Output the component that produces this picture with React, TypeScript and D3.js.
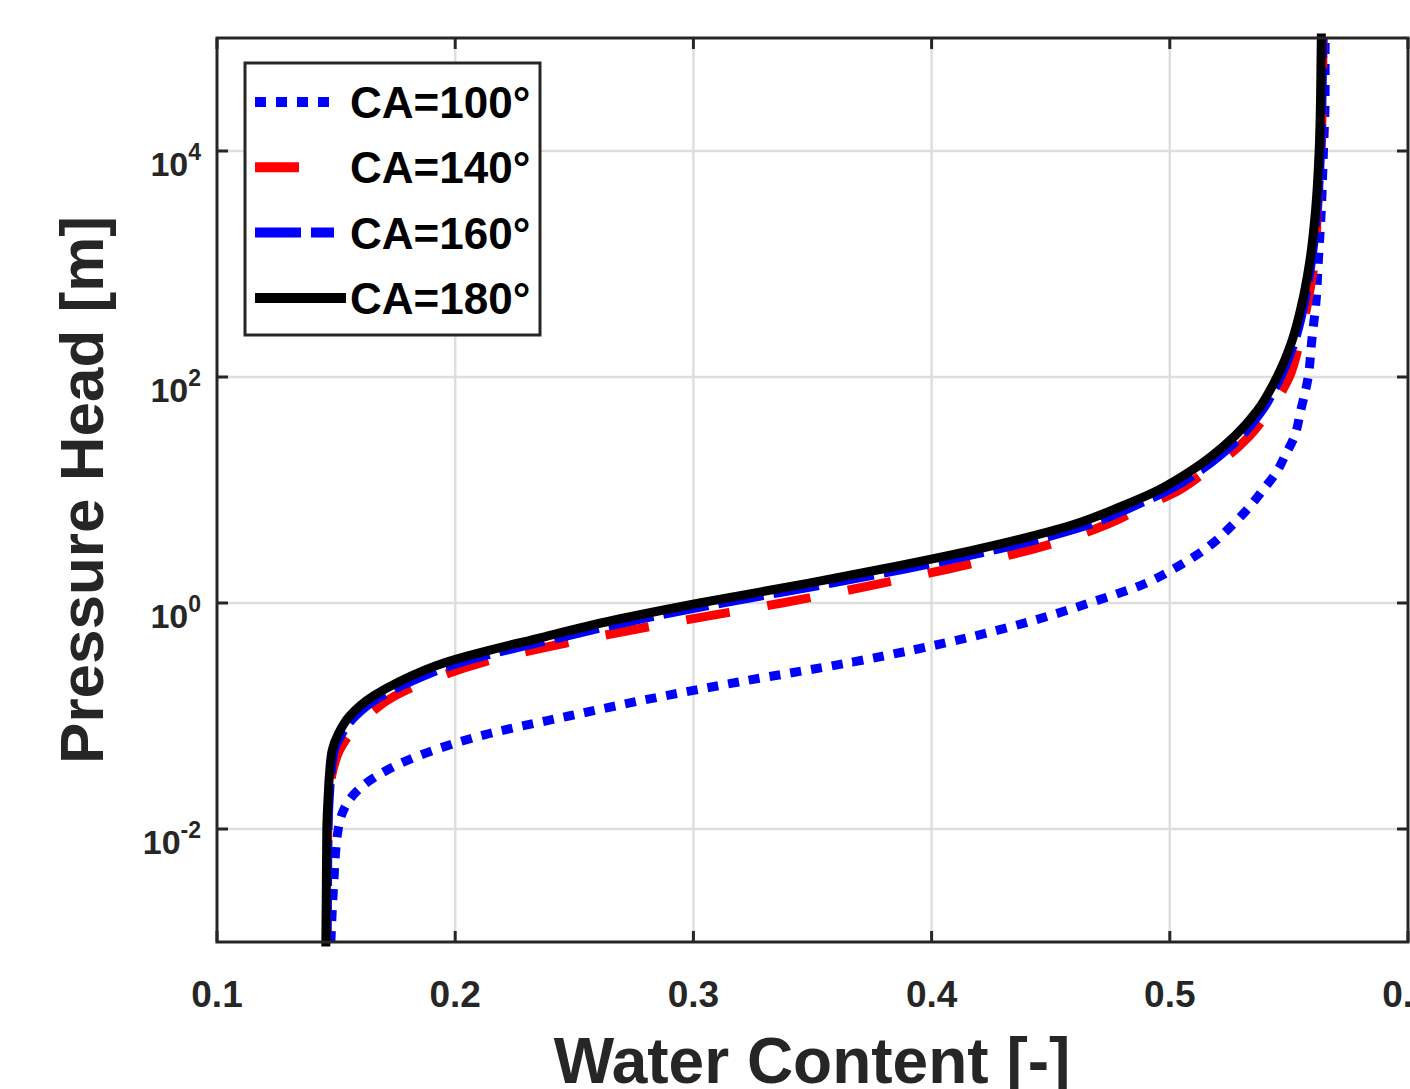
import React, { useRef, useEffect } from 'react';
import * as d3 from 'd3';

// pressure head values (m) shared by all curves
const pressureHead = [0.001, 0.003, 0.01, 0.02, 0.03, 0.05, 0.07, 0.1, 0.15, 0.2, 0.3, 0.5, 0.7, 1, 1.5, 2, 3, 5, 7, 10, 15, 20, 30, 50, 100, 200, 500, 1000, 3000, 10000, 30000, 100000];

// water content
const theta100 = [0.1478, 0.1489, 0.1509, 0.1572, 0.1677, 0.1912, 0.2144, 0.2477, 0.2875, 0.3190, 0.3667, 0.4164, 0.4428, 0.4662, 0.4901, 0.5015, 0.5149, 0.5267, 0.5332, 0.5391, 0.5453, 0.5483, 0.5524, 0.5549, 0.5581, 0.5595, 0.5615, 0.5623, 0.5636, 0.5645, 0.5652, 0.5652];
const theta140 = [0.1461, 0.1463, 0.1465, 0.1472, 0.1482, 0.1515, 0.1560, 0.1630, 0.1745, 0.1875, 0.2119, 0.2588, 0.2956, 0.3372, 0.3795, 0.4070, 0.4426, 0.4740, 0.4884, 0.5040, 0.5159, 0.5243, 0.5334, 0.5416, 0.5502, 0.5544, 0.5582, 0.5606, 0.5620, 0.5635, 0.5640, 0.5644];
const theta160 = [0.1462, 0.1464, 0.1466, 0.1472, 0.1478, 0.1493, 0.1525, 0.1581, 0.1690, 0.1810, 0.2026, 0.2450, 0.2750, 0.3121, 0.3580, 0.3886, 0.4278, 0.4668, 0.4835, 0.4995, 0.5130, 0.5208, 0.5300, 0.5386, 0.5465, 0.5522, 0.5569, 0.5593, 0.5618, 0.5633, 0.5639, 0.5642];
const theta180 = [0.1457, 0.1459, 0.1461, 0.1467, 0.1472, 0.1484, 0.1510, 0.1557, 0.1656, 0.1762, 0.1964, 0.2370, 0.2660, 0.3026, 0.3485, 0.3793, 0.4193, 0.4603, 0.4785, 0.4953, 0.5094, 0.5176, 0.5273, 0.5366, 0.5450, 0.5510, 0.5560, 0.5586, 0.5612, 0.5627, 0.5633, 0.5636];

const seriesLabels = ['CA=100°', 'CA=140°', 'CA=160°', 'CA=180°'];

const xTicks = [0.1, 0.2, 0.3, 0.4, 0.5, 0.6];
const xTickLabels = ['0.1', '0.2', '0.3', '0.4', '0.5', '0.6'];
const yTicks = [1e-2, 1, 1e2, 1e4];
const yTickExponents = ['-2', '0', '2', '4'];

const series = [
  { label: seriesLabels[0], values: theta100, color: '#0000ff', dash: '11,10', cap: 'butt' },
  { label: seriesLabels[1], values: theta140, color: '#ff0000', dash: '44,38', cap: 'butt' },
  { label: seriesLabels[2], values: theta160, color: '#0000ff', dash: '46,10', cap: 'butt' },
  { label: seriesLabels[3], values: theta180, color: '#000000', dash: null, cap: 'square' },
];

const W = 1410;
const H = 1089;

const App = () => {
  const svgRef = useRef(null);

  useEffect(() => {
    const svg = d3.select(svgRef.current);
    svg.selectAll('*').remove();

    const margin = { top: 38, right: 2, bottom: 147, left: 217 };
    const x = d3.scaleLinear().domain([0.1, 0.6]).range([margin.left, W - margin.right]);
    const y = d3.scaleLog().domain([1e-3, 1e5]).range([H - margin.bottom, margin.top]);
    const [x0, x1] = x.range();
    const [yb, yt] = y.range();

    const font = '"Liberation Sans", Arial, sans-serif';
    const axisColor = '#262626';

    svg.append('rect').attr('width', W).attr('height', H).attr('fill', '#fff');

    // grid
    const grid = svg.append('g').attr('stroke', '#dedede').attr('stroke-width', 2.5);
    grid.selectAll('.gx').data(xTicks.slice(1, -1)).enter().append('line')
      .attr('x1', d => x(d)).attr('x2', d => x(d)).attr('y1', yt).attr('y2', yb);
    grid.selectAll('.gy').data(yTicks).enter().append('line')
      .attr('x1', x0).attr('x2', x1).attr('y1', d => y(d)).attr('y2', d => y(d));

    // curves
    const line = d3.line()
      .x(d => x(d[0]))
      .y(d => y(d[1]))
      .curve(d3.curveMonotoneY);

    series.forEach(s => {
      const pts = s.values.map((v, i) => [v, pressureHead[i]]);
      svg.append('path')
        .attr('d', line(pts))
        .attr('fill', 'none')
        .attr('stroke', s.color)
        .attr('stroke-width', 9)
        .attr('stroke-linecap', s.cap)
        .attr('stroke-dasharray', s.dash);
    });

    // axis box
    svg.append('rect')
      .attr('x', x0).attr('y', yt).attr('width', x1 - x0).attr('height', yb - yt)
      .attr('fill', 'none').attr('stroke', axisColor).attr('stroke-width', 3);

    // ticks (inward, all four sides)
    const ticks = svg.append('g').attr('stroke', axisColor).attr('stroke-width', 3);
    xTicks.forEach(t => {
      ticks.append('line').attr('x1', x(t)).attr('x2', x(t)).attr('y1', yb).attr('y2', yb - 11);
      ticks.append('line').attr('x1', x(t)).attr('x2', x(t)).attr('y1', yt).attr('y2', yt + 11);
    });
    yTicks.forEach(t => {
      ticks.append('line').attr('x1', x0).attr('x2', x0 + 11).attr('y1', y(t)).attr('y2', y(t));
      ticks.append('line').attr('x1', x1).attr('x2', x1 - 11).attr('y1', y(t)).attr('y2', y(t));
    });

    // x tick labels
    svg.selectAll('.xl').data(xTicks).enter().append('text')
      .attr('x', d => x(d)).attr('y', yb + 65)
      .attr('text-anchor', 'middle')
      .attr('font-family', font).attr('font-weight', 'bold').attr('font-size', 37)
      .attr('fill', axisColor)
      .text((d, i) => xTickLabels[i]);

    // y tick labels with superscripts
    yTicks.forEach((t, i) => {
      const txt = svg.append('text')
        .attr('x', x0 - 16).attr('y', y(t) + 25)
        .attr('text-anchor', 'end')
        .attr('font-family', font).attr('font-weight', 'bold')
        .attr('fill', axisColor);
      txt.append('tspan').attr('font-size', 34).text('10');
      txt.append('tspan').attr('font-size', 23).attr('dy', -16).text(yTickExponents[i]);
    });

    // axis titles
    svg.append('text')
      .attr('x', 812).attr('y', 1083)
      .attr('text-anchor', 'middle')
      .attr('font-family', font).attr('font-weight', 'bold').attr('font-size', 64)
      .attr('fill', axisColor)
      .text('Water Content [-]');

    svg.append('text')
      .attr('transform', `translate(103, ${(yt + yb) / 2}) rotate(-90)`)
      .attr('text-anchor', 'middle')
      .attr('font-family', font).attr('font-weight', 'bold').attr('font-size', 62)
      .attr('fill', axisColor)
      .text('Pressure Head [m]');

    // legend
    const lg = svg.append('g');
    lg.append('rect')
      .attr('x', 245).attr('y', 63).attr('width', 295).attr('height', 272)
      .attr('fill', '#fff').attr('stroke', axisColor).attr('stroke-width', 3);
    series.forEach((s, i) => {
      const cy = 102 + i * 65.3;
      lg.append('line')
        .attr('x1', 255).attr('x2', s.dash ? 334 : 346)
        .attr('y1', cy).attr('y2', cy)
        .attr('stroke', s.color).attr('stroke-width', 10)
        .attr('stroke-dasharray', s.dash);
      lg.append('text')
        .attr('x', 350).attr('y', cy + 16)
        .attr('font-family', font).attr('font-weight', 'bold').attr('font-size', 44)
        .attr('fill', '#000')
        .text(s.label);
    });
  }, []);

  return (
    <svg ref={svgRef} width={W} height={H} style={{ position: 'absolute', left: 0, top: 0 }}></svg>
  );
};

export default App;
